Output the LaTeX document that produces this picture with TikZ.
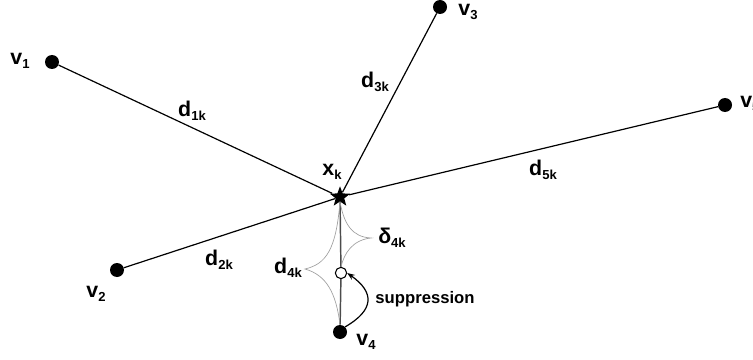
\documentclass[tikz,border=0pt]{standalone}
\usepackage{fontspec}
\setmainfont{Liberation Sans}
\usepackage{tikz}
\usetikzlibrary{shapes.geometric, arrows.meta, positioning}

\newcommand{\lbl}[2]{{\fontsize{16}{18}\selectfont\bfseries #1}\raisebox{-2.6pt}{\fontsize{9.8}{11}\selectfont\bfseries #2}}

\begin{document}
\begin{tikzpicture}[
    x=0.75pt, y=-0.75pt,
    vert/.style={circle, fill=black, inner sep=0pt, minimum size=10.5pt},
    hollow/.style={circle, draw, fill=white, inner sep=0pt, minimum size=8.5pt, line width=0.8pt},
    target/.style={star, star points=5, star point ratio=2.4, fill=black, inner sep=0pt, minimum size=16pt},
    lab/.style={inner sep=0pt},
    edge/.style={line width=0.9pt},
    brace/.style={gray!75, line width=0.5pt},
    arrow/.style={-{Stealth[length=2mm]}, line width=0.9pt},
]
\useasboundingbox (0,0) rectangle (753,360);

\node[vert] (v1) at (52,62) {};
\node[vert] (v2) at (117,270) {};
\node[vert] (v3) at (440,7) {};
\node[vert] (v4) at (340,332) {};
\node[vert] (v5) at (725,105) {};
\node[hollow] (sup) at (341,273) {};
\node[target] (xk) at (340,197) {};

% distances
\draw[edge] (v1) -- (xk);
\draw[edge] (v2) -- (xk);
\draw[edge] (v3) -- (xk);
\draw[edge] (v5) -- (xk);
\draw[line width=1.1pt, black!70] (xk) -- (sup) -- (v4);

% braces for d4k and delta4k
\coordinate (ltip) at (305,269);
\coordinate (rtip) at (371,238);
\draw[brace] (xk.south) .. controls (336,250) and (326,264) .. (ltip)
    .. controls (326,275) and (336,292) .. (v4.north);
\draw[brace] (xk.south) .. controls (344,224) and (352,237) .. (rtip)
    .. controls (352,240) and (344,254) .. (sup.north);

\draw[arrow] (v4.north east) to[out=30, in=-35, looseness=1.6] (sup.east);

\node[lab] (v1l) at (20,61) {\lbl{v}{1}};
\node[lab] (v2l) at (96,294) {\lbl{v}{2}};
\node[lab] (v3l) at (468,12) {\lbl{v}{3}};
\node[lab] (v4l) at (366,342) {\lbl{v}{4}};
\node[lab, anchor=west] (v5l) at (740,104) {\lbl{v}{5}};
\node[lab] (xkl) at (332,172) {\lbl{x}{k}};
\node[lab] (d1l) at (192,111) {\lbl{d}{1k}};
\node[lab] (d2l) at (219,260) {\lbl{d}{2k}};
\node[lab] (d3l) at (375,82) {\lbl{d}{3k}};
\node[lab] (d4l) at (288,268) {\lbl{d}{4k}};
\node[lab] (d5l) at (543,170) {\lbl{d}{5k}};
\node[lab] (dl) at (392,238) {\lbl{δ}{4k}};
\node[font=\fontsize{12.5}{14}\selectfont\bfseries, inner sep=0pt] (supl) at (425,299) {suppression};

\end{tikzpicture}
\end{document}
